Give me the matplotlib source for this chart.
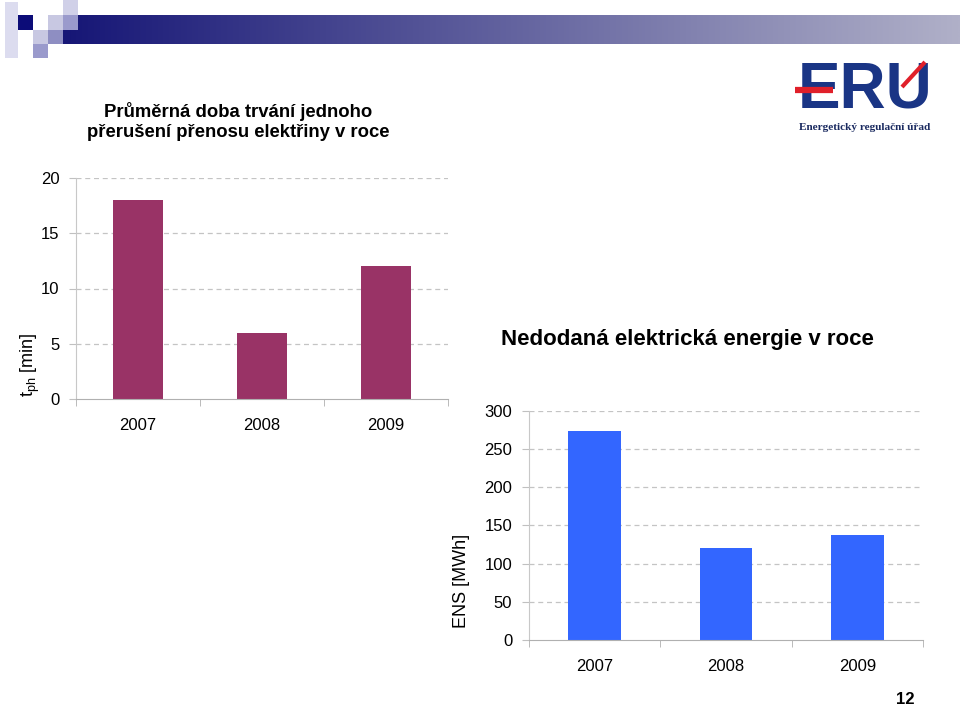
import numpy as np
import matplotlib
matplotlib.use("Agg")
import matplotlib.pyplot as plt
from matplotlib.patches import Rectangle
from matplotlib.ticker import FixedLocator

plt.rcParams['font.family'] = ['Liberation Sans', 'DejaVu Sans']
plt.rcParams['mathtext.fontset'] = 'custom'
plt.rcParams['mathtext.rm'] = 'Liberation Sans'
plt.rcParams['mathtext.it'] = 'Liberation Sans'

# ---- data ----
years = ["2007", "2008", "2009"]
duration_min = [18, 6, 12]
ens_mwh = [274, 121, 138]
y1_ticks = [0, 5, 10, 15, 20]
y2_ticks = [0, 50, 100, 150, 200, 250, 300]

title1 = "Průměrná doba trvání jednoho\npřerušení přenosu elektřiny v roce"
title2 = "Nedodaná elektrická energie v roce"
ylabel1 = r"t$_{\mathrm{ph}}$ [min]"
ylabel2 = "ENS [MWh]"

W, H = 960, 705
fig = plt.figure(figsize=(W / 100, H / 100), dpi=100)
fig.patch.set_facecolor("white")

def px_axes(x0, y0, x1, y1, **kw):
    # pixel coords, y measured from top
    return fig.add_axes([x0 / W, (H - y1) / H, (x1 - x0) / W, (y1 - y0) / H], **kw)

# ---- decorative background (header, logo) ----
bg = fig.add_axes([0, 0, 1, 1], zorder=-5)
bg.set_xlim(0, W)
bg.set_ylim(H, 0)
bg.axis("off")

grad = np.linspace(0, 1, 256)
c0 = np.array([22, 22, 118]) / 255
c1 = np.array([176, 176, 200]) / 255
img = (c0[None, :] * (1 - grad[:, None]) + c1[None, :] * grad[:, None])[None, :, :]
bg.imshow(img, extent=[63, 960, 44, 15], aspect="auto", zorder=1, interpolation="bilinear")

squares = [
    (5, 2, 13, 56, "#dcdcef"),
    (18, 15, 15, 15, "#0c0c78"),
    (48, 15, 15, 15, "#c8c8e2"),
    (63, 0, 15, 15, "#d0d0e8"),
    (63, 15, 15, 15, "#9a9acc"),
    (33, 30, 15, 14, "#c8c8e2"),
    (48, 30, 15, 14, "#8e8ec2"),
    (33, 44, 15, 14, "#9a9acc"),
]
for x, y, w, h, c in squares:
    bg.add_patch(Rectangle((x, y), w, h, facecolor=c, edgecolor="none", zorder=2))

# logo
bg.text(865, 91, "ERU", fontsize=46, fontweight="bold", color="#1a3585",
        family=["Liberation Sans Narrow", "Liberation Sans", "DejaVu Sans"],
        ha="center", va="center", zorder=3)
bg.plot([795, 833], [90, 90], color="#e0202a", lw=4.5, solid_capstyle="butt", zorder=4)
bg.plot([902, 925], [87, 62], color="#e0202a", lw=3, solid_capstyle="butt", zorder=4)
bg.text(865, 127, "Energetický regulační úřad", fontsize=8.1, fontweight="bold",
        family=["Liberation Serif", "DejaVu Serif"], color="#1a2a60",
        ha="center", va="center", zorder=3)

# page number
bg.text(905, 699, "12", fontsize=12, fontweight="bold", ha="center", va="center")

# ---- chart styling helper ----
grid_c = "#c4c4c4"

def style(ax, ymax, yticks):
    ax.set_ylim(0, ymax)
    ax.set_xlim(-0.5, 2.5)
    ax.set_yticks(yticks)
    ax.set_yticklabels([str(t) for t in yticks], fontsize=12)
    ax.set_xticks(range(3))
    ax.set_xticklabels(years, fontsize=12)
    ax.xaxis.set_minor_locator(FixedLocator([-0.5, 0.5, 1.5, 2.5]))
    ax.tick_params(axis="x", which="major", length=0, pad=14)
    ax.tick_params(axis="x", which="minor", length=5, color="#b0b0b0")
    ax.tick_params(axis="y", length=5, color="#c0c0c0", pad=7)
    for s in ("top", "right"):
        ax.spines[s].set_visible(False)
    ax.spines["left"].set_color("#c8c8c8")
    ax.spines["bottom"].set_color("#b0b0b0")
    for t in yticks[1:]:
        ax.axhline(t, color=grid_c, lw=0.9, ls=(0, (4, 3)), zorder=0)
    ax.set_facecolor("none")

# ---- chart 1 ----
ax1 = px_axes(76, 178, 448, 399)
ax1.bar(range(3), duration_min, width=0.41, color="#993366", zorder=2)
style(ax1, 20, y1_ticks)
fig.text(238 / W, 1 - 121.5 / H, title1, fontsize=13.3, fontweight="bold",
         ha="center", va="center", linespacing=1.3)
fig.text(30 / W, 1 - 365 / H, ylabel1, fontsize=13, rotation=90,
         ha="center", va="center")

# ---- chart 2 ----
ax2 = px_axes(529, 410.7, 923, 640)
ax2.bar(range(3), ens_mwh, width=0.4, color="#3366FF", zorder=2)
style(ax2, 300, y2_ticks)
fig.text(687 / W, 1 - 340 / H, title2, fontsize=16, fontweight="bold",
         ha="center", va="center")
fig.text(462 / W, 1 - 581 / H, ylabel2, fontsize=13, rotation=90,
         ha="center", va="center")

fig.savefig("out.png", dpi=100)
